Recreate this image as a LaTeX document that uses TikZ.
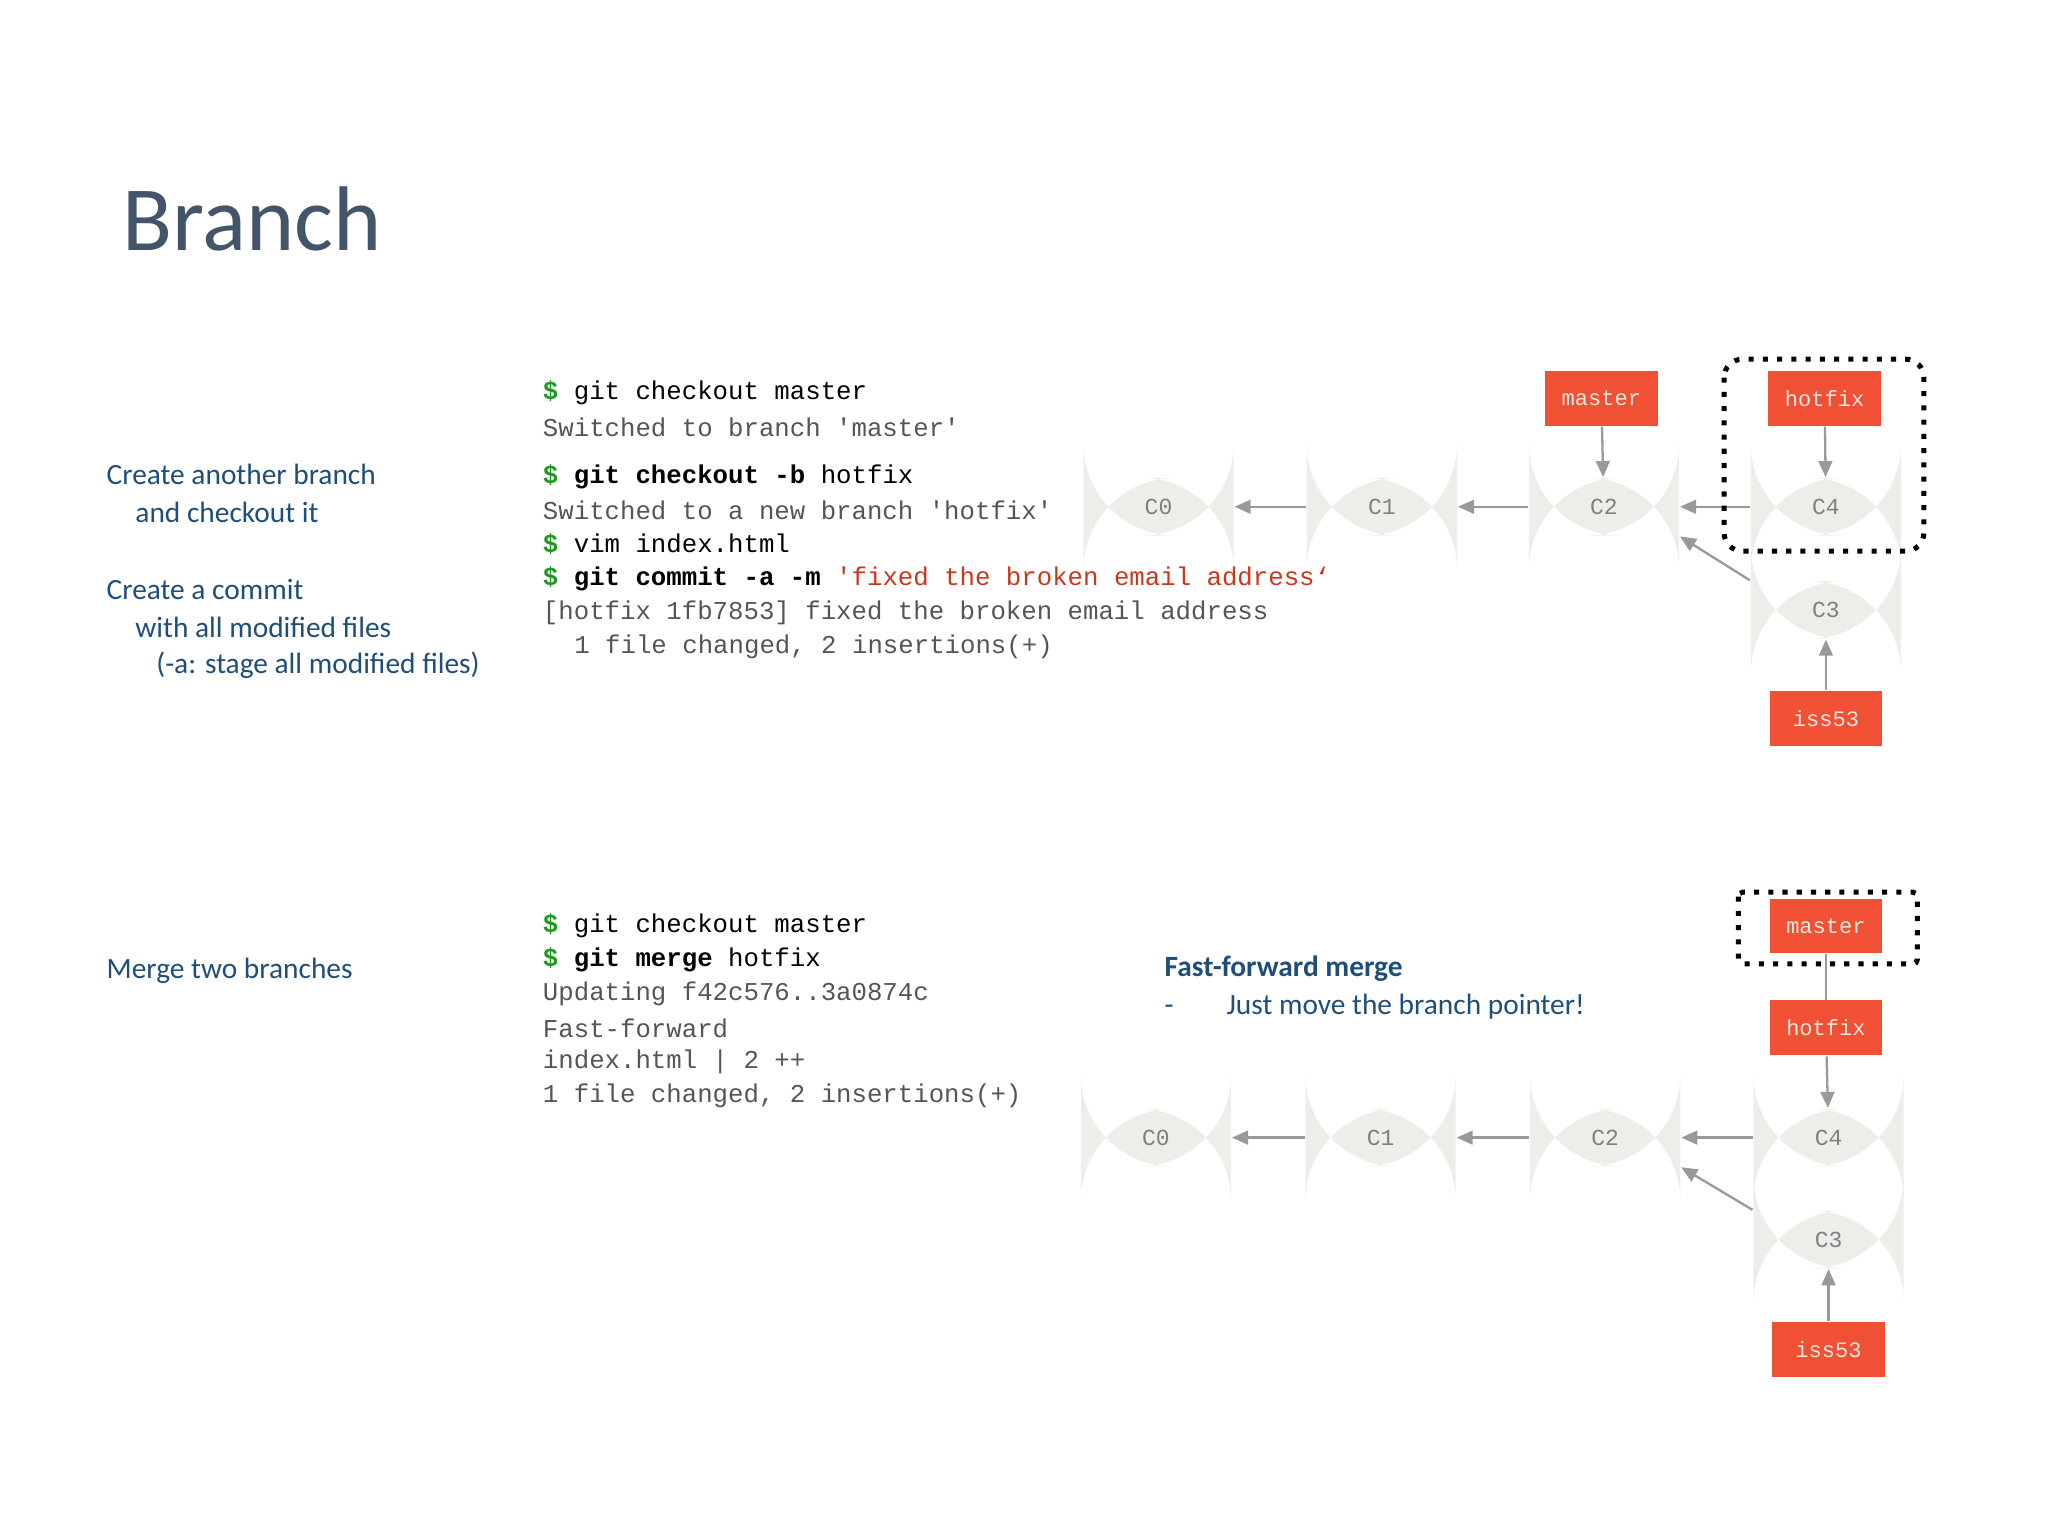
\documentclass[tikz,border=0pt]{standalone}
\usepackage{fontspec}
\setmainfont{Carlito}
\newfontfamily\codefont{Liberation Mono}
\usetikzlibrary{arrows.meta}
\definecolor{gitred}{HTML}{F05033}
\definecolor{blu}{HTML}{1F4E79}
\definecolor{ttl}{HTML}{44546A}
\definecolor{outg}{HTML}{555555}
\definecolor{strred}{HTML}{C8381E}
\definecolor{dgreen}{HTML}{1E9B1E}
\definecolor{cfill}{HTML}{EDEDEA}
\tikzset{
 commit/.style={rounded corners=20pt,fill=cfill,minimum width=1.15cm,minimum height=0.44cm,inner sep=0pt,font=\codefont\fontsize{5pt}{6pt}\selectfont,text=gray},
 br/.style={fill=gitred,minimum width=0.86cm,minimum height=0.42cm,inner sep=0pt,font=\codefont\fontsize{4.8pt}{6pt}\selectfont,text=white!85!gitred},
 ar/.style={draw=gray!80,line width=0.5pt,-{Triangle[length=3.5pt,width=3pt]}},
 code/.style={anchor=west,inner sep=0pt,font=\codefont\fontsize{5.6pt}{7pt}\selectfont},
 txt/.style={anchor=west,inner sep=0pt,font=\fontsize{6.4pt}{8pt}\selectfont,text=blu},
 dbox/.style={draw,dotted,line width=1.1pt,rounded corners=4pt}
}
\newcommand{\dol}{\textbf{\textcolor{dgreen}{\$}}}
\begin{document}
\begin{tikzpicture}[x=0.01cm,y=-0.01cm]
\useasboundingbox (0,0) rectangle (1568,1176);
\node[anchor=west,inner sep=0pt,font=\fontsize{20pt}{24pt}\selectfont,text=ttl] (title) at (93,168) {Branch};
% left texts
\node[txt] (t1) at (81,363) {Create another branch};
\node[txt] (t2) at (103,392) {and checkout it};
\node[txt] (t3) at (81,451) {Create a commit};
\node[txt] (t4) at (103,480) {with all modified files};
\node[txt] (t5) at (119,509) {(-a: stage all modified files)};
\node[txt] (t6) at (81,743) {Merge two branches};
% code top
\node[code] (c1) at (415,301) {\dol{} git checkout master};
\node[code,text=outg] (c2) at (415,327) {Switched to branch 'master'};
\node[code] (c3) at (415,365) {\dol{} \textbf{git checkout -b} hotfix};
\node[code,text=outg] (c4) at (415,391) {Switched to a new branch 'hotfix'};
\node[code] (c5) at (415,417) {\dol{} vim index.html};
\node[code] (c6) at (415,443) {\dol{} \textbf{git commit -a -m} \textcolor{strred}{'fixed the broken email address‘}};
\node[code,text=outg] (c7) at (415,469) {[hotfix 1fb7853] fixed the broken email address};
\node[code,text=outg] (c8) at (439,495) {1 file changed, 2 insertions(+)};
% code bottom
\node[code] (d1) at (415,709) {\dol{} git checkout master};
\node[code] (d2) at (415,735) {\dol{} \textbf{git merge} hotfix};
\node[code,text=outg] (d3) at (415,761) {Updating f42c576..3a0874c};
\node[code,text=outg] (d4) at (415,787) {Fast-forward};
\node[code,text=outg] (d5) at (415,813) {index.html | 2 ++};
\node[code,text=outg] (d6) at (415,839) {1 file changed, 2 insertions(+)};
\node[txt,font=\bfseries\fontsize{6.4pt}{8pt}\selectfont] (ff) at (891,742) {Fast-forward merge};
\node[txt] (ff2) at (891,771) {-\hspace{1.8em}Just move the branch pointer!};
% top graph
\node[commit] (a0) at (887,388) {C0};
\node[commit] (a1) at (1058,388) {C1};
\node[commit] (a2) at (1228,388) {C2};
\node[commit] (a4) at (1398,388) {C4};
\node[commit] (a3) at (1398,467) {C3};
\node[br] (am) at (1226,305) {master};
\node[br] (ah) at (1397,305) {hotfix};
\node[br] (ai) at (1398,550) {iss53};
\draw[ar] (a1) -- (a0);
\draw[ar] (a2) -- (a1);
\draw[ar] (a4) -- (a2);
\draw[ar] (a3.north west) -- (a2.south east);
\draw[ar] (am) -- (a2);
\draw[ar] (ah) -- (a4);
\draw[ar] (ai) -- (a3);
\draw[dbox] (1320,275) rectangle (1473,422);
% bottom graph
\node[commit] (b0) at (885,871) {C0};
\node[commit] (b1) at (1057,871) {C1};
\node[commit] (b2) at (1229,871) {C2};
\node[commit] (b4) at (1400,871) {C4};
\node[commit] (b3) at (1400,949) {C3};
\node[br] (bm) at (1398,709) {master};
\node[br] (bh) at (1398,787) {hotfix};
\node[br] (bi) at (1400,1033) {iss53};
\draw[ar] (b1) -- (b0);
\draw[ar] (b2) -- (b1);
\draw[ar] (b4) -- (b2);
\draw[ar] (b3.north west) -- (b2.south east);
\draw[draw=gray!80,line width=0.5pt] (bm) -- (bh);
\draw[ar] (bh) -- (b4);
\draw[ar] (bi) -- (b3);
\draw[dbox,rounded corners=1pt] (1331,683) rectangle (1468,738);
\end{tikzpicture}
\end{document}
